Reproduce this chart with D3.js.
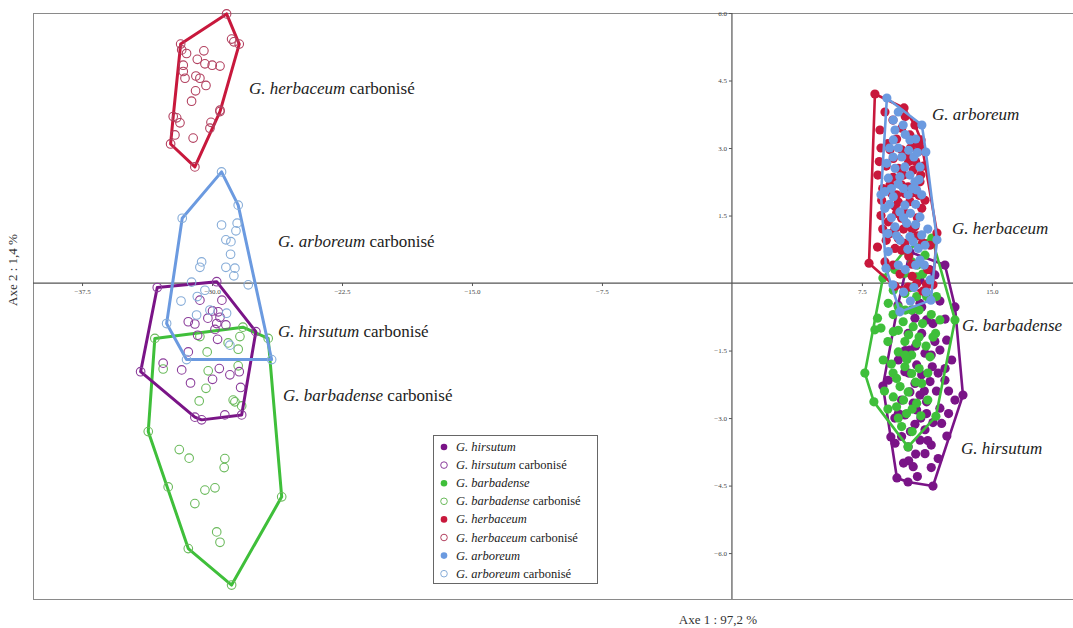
<!DOCTYPE html>
<html><head><meta charset="utf-8">
<script src="https://cdn.jsdelivr.net/npm/d3@7"></script>
<style>body{margin:0;background:#fff}svg{display:block}text{font-family:"Liberation Serif","Times New Roman",serif}</style>
</head><body><svg id="c" width="1073" height="628"></svg>
<script>
// ---- data (Axe 1, Axe 2) ----
const herbaceumC = [[-29.16,5.98],[-31.81,5.31],[-28.43,5.31],[-28.87,5.42],[-29.54,3.81],[-32.39,3.09],[-30.99,2.58],[-32.24,3.70],
[-31.47,5.10],[-30.47,5.16],[-30.85,4.97],[-30.41,4.87],[-29.99,4.84],[-29.54,4.82],[-31.66,4.84],[-31.66,4.70],[-31.56,4.55],[-30.93,4.60],[-30.70,4.55],[-30.35,4.39],[-30.95,4.27],[-31.18,4.04],[-31.85,3.56],[-30.06,3.57],[-30.12,3.44],[-31.09,3.22],[-32.14,3.29],[-28.74,5.36],[-31.75,5.18],[-29.54,3.84],[-32.04,3.67]];
const arboreumC = [[-29.45,2.47],[-28.49,1.73],[-31.72,1.44],[-32.62,-0.90],[-31.47,-1.70],[-26.56,-1.70],
[-29.45,1.29],[-28.55,1.33],[-28.62,1.16],[-29.20,0.96],[-28.91,0.92],[-28.93,0.64],[-30.60,0.47],[-30.70,0.35],[-29.20,0.35],[-28.68,0.33],[-28.74,0.16],[-27.91,-0.04],[-31.18,0.02],[-30.85,-0.30],[-31.79,-0.40],[-30.89,-0.71],[-29.16,-0.67],[-30.12,-0.60],[-28.97,-1.38],[-30.41,-0.16]];
const hirsutumC = [[-33.16,-0.10],[-29.73,0.03],[-27.47,-1.08],[-28.29,-2.93],[-30.60,-3.04],[-30.99,-2.98],[-34.12,-1.97],
[-31.37,-0.86],[-30.99,-0.91],[-29.97,-0.62],[-29.64,-0.64],[-29.54,-0.76],[-29.73,-0.90],[-29.20,-0.93],[-29.83,-1.03],[-30.83,-1.16],[-29.68,-1.25],[-31.37,-1.53],[-32.82,-1.78],[-31.75,-1.93],[-29.58,-1.90],[-29.97,-2.14],[-28.97,-2.04],[-28.43,-1.97],[-31.24,-2.22],[-28.35,-2.32],[-29.26,-2.93],[-30.70,-0.38],[-29.43,-0.38],[-30.24,-0.78]];
const barbadenseC = [[-33.30,-1.23],[-28.22,-0.98],[-26.76,-1.23],[-25.98,-4.75],[-28.87,-6.71],[-31.37,-5.90],[-32.53,-4.53],[-33.68,-3.30],
[-30.70,-1.19],[-29.07,-1.33],[-28.49,-1.47],[-30.28,-1.53],[-32.82,-1.91],[-30.22,-1.95],[-28.49,-1.84],[-30.35,-2.34],[-30.74,-2.62],[-28.78,-2.60],[-28.68,-2.64],[-28.29,-2.73],[-31.89,-3.70],[-31.32,-3.89],[-29.26,-3.90],[-29.30,-4.10],[-29.83,-4.55],[-30.41,-4.60],[-30.99,-4.90],[-29.73,-5.53],[-29.54,-5.76],[-28.39,-1.19]];
const herbaceum = [[8.25,4.20],[9.93,3.89],[10.91,3.18],[11.83,1.11],[11.60,-0.04],[11.02,-0.18],[9.41,-0.07],[7.91,0.44],
[8.54,3.40],[9.79,3.44],[10.27,3.29],[10.66,3.10],[9.12,2.96],[9.79,2.96],[9.31,2.77],[10.08,2.81],[10.75,2.92],[10.85,3.03],[9.60,2.55],[10.46,2.51],[9.12,2.18],[9.79,2.18],[10.17,2.14],[10.85,2.25],[9.50,1.96],[9.98,1.99],[8.64,1.84],[9.41,1.70],[10.27,1.81],[10.95,1.66],[9.02,1.36],[9.79,1.44],[10.56,1.25],[9.12,1.10],[9.60,0.99],[9.98,0.88],[9.41,0.77],[9.79,0.73],[11.23,-0.03],[10.66,-0.01],[10.16,-0.09],[8.83,3.80],[9.29,3.62],[10.56,3.51],[8.42,2.40],[11.14,1.84],[11.43,0.84],[8.83,0.47],[10.39,0.42],
[8.90,2.60],[10.40,2.00],[9.50,1.55],[10.70,1.05],[10.20,0.60],[9.00,3.10],[10.00,3.70],[8.70,1.20],[11.05,2.60],[10.60,2.70],
[8.60,3.00],[9.50,3.20],[10.30,3.00],[9.90,2.40],[10.90,2.40],[8.70,2.10],[9.30,2.35],[10.00,1.55],[10.70,1.45],[8.90,0.95],[9.40,1.20],[10.40,1.20],[11.00,0.90],[8.40,0.80],[9.70,0.20],[10.40,0.15],[9.30,0.40],[11.30,0.30],[8.60,1.50],[9.90,1.20],[10.20,2.70],[9.20,2.00],[10.80,1.95],[9.60,1.80],[8.50,2.70]];
const arboreum = [[8.94,4.11],[10.96,3.51],[11.19,2.91],[11.83,0.96],[11.48,-0.38],[9.69,-0.64],[8.89,0.33],[8.60,1.96],
[9.31,3.62],[9.88,3.51],[9.41,3.40],[10.27,3.18],[9.31,3.18],[8.93,2.66],[9.41,2.55],[9.98,2.58],[10.27,2.40],[10.85,2.58],[9.02,2.33],[9.69,2.36],[10.56,2.25],[8.83,2.03],[9.31,1.92],[10.17,1.96],[10.66,2.07],[10.95,1.96],[8.83,1.66],[9.69,1.58],[9.98,1.73],[10.85,1.47],[10.08,1.33],[9.41,1.25],[10.95,1.07],[10.46,0.92],[11.14,0.84],[10.27,1.03],[9.02,0.70],[10.75,0.77],[11.43,0.07],[10.85,0.51],[9.29,-0.04],
[9.60,3.00],[10.50,2.80],[9.90,2.10],[10.30,1.55],[9.70,0.95],[10.00,0.30],[11.20,-0.20],[10.60,3.20],[9.20,1.45],[10.60,1.75],
[9.10,3.00],[9.80,2.80],[10.20,2.95],[10.70,2.90],[9.20,2.10],[9.60,2.20],[10.40,2.10],[9.10,1.75],[9.90,1.45],[10.60,1.30],[9.50,1.05],[10.15,0.75],[10.60,0.40],[9.60,0.40],[9.90,-0.20],[10.50,-0.10],[11.10,0.40],[9.30,2.80],[10.00,3.30],[9.60,3.80],[10.80,2.30],[9.00,1.10],[11.30,1.20],[10.30,-0.40]];
const barbadense = [[9.98,0.73],[11.54,1.00],[12.87,-0.82],[11.77,-2.96],[10.16,-3.64],[8.19,-2.64],[7.67,-2.00],[8.71,0.11],
[9.98,0.22],[10.66,0.14],[9.31,-0.16],[9.98,-0.23],[10.66,-0.30],[11.23,-0.30],[9.02,-0.45],[9.60,-0.53],[10.37,-0.60],[12.00,-0.82],[9.88,-0.86],[10.46,-0.97],[9.31,-1.08],[11.75,-1.12],[9.98,-1.30],[10.66,-1.34],[9.60,-1.53],[10.37,-1.60],[11.43,-1.64],[8.73,-1.71],[9.98,-1.86],[10.37,-2.01],[9.50,-2.12],[10.95,-2.23],[10.17,-2.42],[9.31,-2.53],[9.50,-2.75],[10.66,-2.67],[10.08,-2.90],[9.79,-3.19],[10.39,0.47],[11.14,0.62],[8.25,-1.04],[8.40,-0.78],
[10.00,-0.60],[11.00,-0.90],[10.80,-1.90],[9.70,-2.30],[11.30,-2.60],[9.20,-1.80],[10.20,-1.15],[11.00,0.20],[11.80,-0.30],[9.00,-2.80],
[9.40,0.30],[10.30,-0.10],[9.30,-0.70],[10.80,-0.60],[11.50,-0.70],[9.60,-1.05],[10.80,-1.20],[11.20,-1.40],[9.00,-1.30],[10.10,-1.70],[9.30,-2.00],[10.60,-2.20],[11.30,-2.00],[9.90,-2.60],[10.40,-2.80],[10.90,-2.95],[9.60,-3.00],[10.40,-3.30],[8.80,-2.40],[8.60,-1.00],[11.60,-1.20],[10.00,-1.60],[10.70,0.40]];
const hirsutum = [[10.27,0.69],[12.29,0.40],[12.87,-0.53],[13.33,-2.49],[11.60,-4.51],[9.52,-4.33],[9.17,-3.42],[8.71,-2.29],[9.58,-0.49],
[10.95,-0.53],[10.17,-1.12],[10.95,-1.12],[11.71,-1.30],[10.27,-1.49],[11.14,-1.56],[12.68,-1.71],[9.60,-1.71],[10.66,-1.82],[11.56,-1.86],[9.98,-1.97],[10.95,-2.04],[12.29,-2.16],[9.02,-2.16],[10.56,-2.23],[11.43,-2.19],[10.27,-2.42],[10.85,-2.49],[12.87,-2.60],[9.79,-2.60],[10.46,-2.67],[11.23,-2.64],[12.00,-2.78],[10.66,-2.82],[11.23,-2.90],[9.98,-2.93],[12.10,-3.12],[10.56,-3.14],[11.14,-3.26],[9.79,-3.41],[10.85,-3.49],[10.17,-3.64],[11.14,-3.79],[10.46,-4.08],[9.41,-3.56],[10.85,-0.45],[11.23,-0.82],[10.56,-0.78],[12.00,-1.49],[12.39,-1.27],[11.71,0.18],[10.85,0.07],
[11.50,-3.60],[11.80,-2.40],[10.20,-3.95],[12.50,-2.90],[10.70,-4.30],[11.90,-3.90],[10.16,-4.42],
[11.40,0.30],[11.20,-0.20],[12.00,-0.40],[11.60,-0.90],[12.30,-0.80],[10.60,-1.40],[11.50,-1.60],[12.30,-1.90],[10.20,-2.00],[11.10,-2.40],[12.50,-2.40],[9.60,-2.90],[10.90,-3.00],[11.60,-3.10],[12.40,-3.40],[10.30,-3.30],[11.30,-3.50],[10.60,-3.80],[11.50,-4.10],[9.90,-4.00],[10.00,-1.50],[11.90,-2.00],[10.40,-0.60],[9.40,-3.00]];

const xTicks = [-37.5,-30.0,-22.5,-15.0,-7.5,7.5,15.0];
const yTicks = [6.0,4.5,3.0,1.5,-1.5,-3.0,-4.5,-6.0];
const legendItems = [
 {sp:"G. hirsutum", carb:false, key:"hir"},
 {sp:"G. hirsutum", carb:true, key:"hir"},
 {sp:"G. barbadense", carb:false, key:"bar"},
 {sp:"G. barbadense", carb:true, key:"bar"},
 {sp:"G. herbaceum", carb:false, key:"her"},
 {sp:"G. herbaceum", carb:true, key:"her"},
 {sp:"G. arboreum", carb:false, key:"arb"},
 {sp:"G. arboreum", carb:true, key:"arb"}];
const axisTitles = ["Axe 1 : 97,2 %","Axe 2 : 1,4 %"];

// ---- styles ----
const col = {hir:"#7a1487", bar:"#3fbf3a", her:"#c8183c", arb:"#6b9ae0"};
const openCol = {hir:"#8b3d9b", bar:"#6bba5c", her:"#b2405f", arb:"#86acd8"};

const svg = d3.select("#c");
const L=33, R=1073, T=13, B=599;
const x = d3.scaleLinear().domain([-40.33,19.68]).range([L,R]);
const y = d3.scaleLinear().domain([-7.02,6.0]).range([B,T]);

svg.append("rect").attr("x",L+0.5).attr("y",T+0.5).attr("width",R-L).attr("height",B-T)
  .attr("fill","none").attr("stroke","#8a8a8a").attr("stroke-width",1);

const gx = svg.append("g").attr("transform",`translate(0,${y(0)})`)
  .call(d3.axisBottom(x).tickValues(xTicks).tickFormat(d3.format(".1f")).tickSize(3).tickPadding(3));
gx.select(".domain").remove();
svg.append("line").attr("x1",L).attr("x2",R).attr("y1",y(0)).attr("y2",y(0)).attr("stroke","#555").attr("stroke-width",1.2);
const gy = svg.append("g").attr("transform",`translate(${x(0)},0)`)
  .call(d3.axisLeft(y).tickValues(yTicks).tickFormat(d3.format(".1f")).tickSize(3).tickPadding(2));
gy.select(".domain").remove();
svg.append("line").attr("x1",x(0)).attr("x2",x(0)).attr("y1",T).attr("y2",B).attr("stroke","#555").attr("stroke-width",1.2);
svg.selectAll(".tick text").attr("font-size",7).attr("fill","#444").attr("font-family","Liberation Serif, serif");
svg.selectAll(".tick line").attr("stroke","#555");

svg.append("text").attr("x",718).attr("y",624).attr("text-anchor","middle").attr("font-size",13).attr("fill","#333").text(axisTitles[0]);
svg.append("text").attr("transform","translate(17,270) rotate(-90)").attr("text-anchor","middle").attr("font-size",13).attr("fill","#333").text(axisTitles[1]);

function drawGroup(data, key, carb){
  const pts = data.map(d=>[x(d[0]),y(d[1])]);
  const hull = d3.polygonHull(pts);
  svg.append("path").attr("d","M"+hull.join("L")+"Z").attr("fill","none")
    .attr("stroke",col[key]).attr("stroke-width",carb?3:2.6).attr("stroke-linejoin","round");
  svg.append("g").selectAll("circle").data(pts).join("circle")
    .attr("cx",d=>d[0]).attr("cy",d=>d[1]).attr("r",carb?4.3:4.6)
    .attr("fill",carb?"none":col[key]).attr("stroke",carb?openCol[key]:"none").attr("stroke-width",1.1);
}
drawGroup(barbadenseC,"bar",true);
drawGroup(hirsutumC,"hir",true);
drawGroup(arboreumC,"arb",true);
drawGroup(herbaceumC,"her",true);
drawGroup(hirsutum,"hir",false);
drawGroup(barbadense,"bar",false);
drawGroup(herbaceum,"her",false);
drawGroup(arboreum,"arb",false);

function label(px,py,sp,carb,fs){
  const t = svg.append("text").attr("x",px).attr("y",py).attr("font-size",fs).attr("fill","#222");
  t.append("tspan").attr("font-style","italic").text(sp);
  if(carb) t.append("tspan").text(" carbonisé");
}
label(249,94,"G. herbaceum",true,17);
label(278,247,"G. arboreum",true,17);
label(278,337,"G. hirsutum",true,17);
label(283,401,"G. barbadense",true,17);
label(932,120,"G. arboreum",false,17);
label(952,234,"G. herbaceum",false,17);
label(962,331,"G. barbadense",false,17);
label(961,454,"G. hirsutum",false,17);

const lg = svg.append("g");
lg.append("rect").attr("x",433.5).attr("y",435.5).attr("width",164).attr("height",148).attr("fill","#fff").attr("stroke","#666");
legendItems.forEach((it,i)=>{
  const cy = 447 + i*18.1;
  lg.append("circle").attr("cx",444).attr("cy",cy).attr("r",3.3)
    .attr("fill",it.carb?"none":col[it.key]).attr("stroke",it.carb?openCol[it.key]:"none").attr("stroke-width",1);
  const t = lg.append("text").attr("x",456).attr("y",cy+4).attr("font-size",12.5).attr("fill","#222");
  t.append("tspan").attr("font-style","italic").text(it.sp);
  if(it.carb) t.append("tspan").text(" carbonisé");
});
</script></body></html>
